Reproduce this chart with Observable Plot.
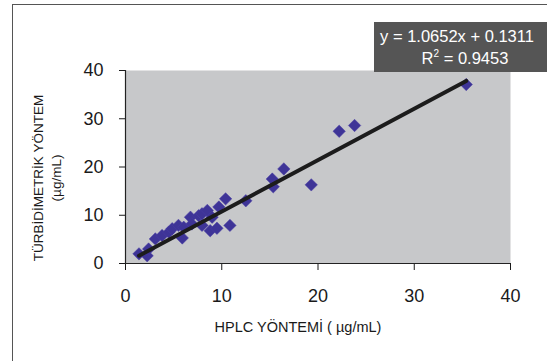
<!DOCTYPE html>
<html>
<head>
<meta charset="utf-8">
<script src="https://cdn.jsdelivr.net/npm/d3@7"></script>
<script src="https://cdn.jsdelivr.net/npm/@observablehq/plot@0.6"></script>
<style>
  html, body { margin: 0; padding: 0; background: #fff; overflow: hidden; }
  #wrap { position: relative; width: 547px; height: 361px; font-family: "Liberation Sans", Arial, sans-serif; }
  #frame { position: absolute; left: 12px; top: 4px; width: 600px; height: 400px; border: 1.5px solid #555; box-sizing: border-box; }
  #eq { position: absolute; left: 374px; top: 22px; width: 173px; height: 50px; background: #555; color: #fff; font-size: 16.5px; line-height: 1; }
  #eq .l1 { position: absolute; left: 0; width: 166px; top: 6px; text-align: center; white-space: nowrap; }
  #eq .l2 { position: absolute; left: 0; width: 182px; top: 28px; text-align: center; white-space: nowrap; }
  #eq sup { font-size: 10px; vertical-align: 7px; line-height: 0; }
  #chart { position: absolute; left: 0; top: 0; }
</style>
</head>
<body>
<div id="wrap">
  <div id="frame"></div>
  <div id="chart"></div>
  <div id="eq"><div class="l1">y = 1.0652x + 0.1311</div><div class="l2">R<sup>2</sup> = 0.9453</div></div>
</div>
<script>
const hplc = [1.4, 2.25, 2.4, 3.1, 3.8, 4.5, 4.85, 5.5, 5.9, 6.05, 6.75, 6.9, 7.6, 7.95, 7.95, 8.5, 8.8, 9.0, 9.5, 9.7, 10.4, 10.85, 12.5, 15.25, 15.35, 16.45, 19.3, 22.2, 23.8, 35.4];
const turb = [2.0, 1.6, 3.0, 5.1, 5.8, 6.5, 7.2, 7.9, 5.3, 7.5, 9.6, 8.2, 9.9, 10.3, 7.9, 11.0, 6.8, 9.6, 7.3, 11.7, 13.4, 7.9, 13.0, 17.5, 15.9, 19.6, 16.3, 27.4, 28.6, 37.1];
const slope = 1.0652;
const intercept = 0.1311;
const xTicks = [0, 10, 20, 30, 40];
const yTicks = [0, 10, 20, 30, 40];
const xTitle = "HPLC YÖNTEMİ ( µg/mL)";
const yTitle = "TÜRBİDİMETRİK YÖNTEM\n(µg/mL)";

const points = hplc.map((x, i) => ({x, y: turb[i]}));
const xExt = d3.extent(hplc);
const fit = xExt.map(x => ({x, y: slope * x + intercept}));

const chart = Plot.plot({
  width: 547,
  height: 361,
  marginLeft: 125,
  marginRight: 37,
  marginTop: 70,
  marginBottom: 98,
  style: {fontFamily: "Liberation Sans, Arial, sans-serif", fontSize: "18px", color: "#1a1a1a", background: "transparent"},
  x: {domain: [0, 40]},
  y: {domain: [0, 40]},
  marks: [
    Plot.frame({fill: "#c7c8ca", stroke: null}),
    Plot.axisX({ticks: xTicks, tickSize: 7, tickPadding: 19, label: null, fontSize: 18}),
    Plot.axisY({ticks: yTicks, tickSize: 6, tickPadding: 16, label: null, fontSize: 18}),
    Plot.ruleY([0], {stroke: "#222", strokeWidth: 1.2}),
    Plot.ruleX([0], {stroke: "#222", strokeWidth: 1.2}),
    Plot.dot(points, {x: "x", y: "y", symbol: "diamond2", r: 5.6, fill: "#3e3497", stroke: "#4a3fa6", strokeWidth: 0.5}),
    Plot.line(fit, {x: "x", y: "y", stroke: "#1c1c1c", strokeWidth: 4}),
    Plot.text([xTitle], {frameAnchor: "bottom", dx: -20, dy: 64, fontSize: 14.5, fill: "#1a1a1a", lineAnchor: "middle"}),
    Plot.text([yTitle], {frameAnchor: "left", dx: -79, dy: 11, rotate: -90, fontSize: 13.5, lineHeight: 1.35, fill: "#1a1a1a", lineAnchor: "middle", textAnchor: "middle"})
  ]
});
document.getElementById("chart").appendChild(chart);
</script>
</body>
</html>
